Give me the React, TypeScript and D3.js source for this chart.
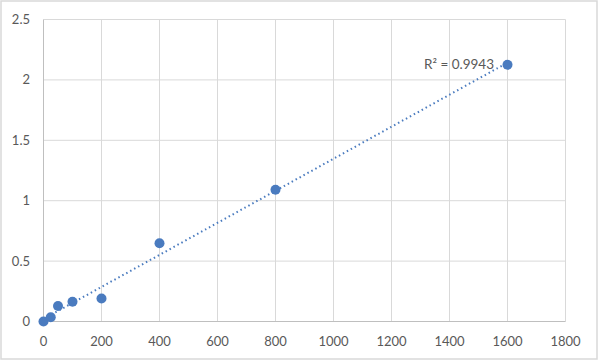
import React from "react";
import * as d3 from "d3";

const xValues = [0, 25, 50, 100, 200, 400, 800, 1600];
const yValues = [0.0, 0.035, 0.128, 0.163, 0.19, 0.648, 1.09, 2.125];
const xTicks = [0, 200, 400, 600, 800, 1000, 1200, 1400, 1600, 1800];
const yTicks = [0, 0.5, 1, 1.5, 2, 2.5];
const r2Label = "R² = 0.9943";

const W = 600;
const H = 361;
const M = { left: 43.5, right: 565.5, top: 19.5, bottom: 321.5 };
const BLUE = "#4a7bbf";
const TEXT = "#595959";
const FONT = "Lato, 'Open Sans', sans-serif";

export default function App() {
  const x = d3.scaleLinear().domain([0, 1800]).range([M.left, M.right]);
  const y = d3.scaleLinear().domain([0, 2.5]).range([M.bottom, M.top]);

  const mx = d3.mean(xValues)!;
  const my = d3.mean(yValues)!;
  let sxy = 0, sxx = 0;
  xValues.forEach((v, i) => {
    sxy += (v - mx) * (yValues[i] - my);
    sxx += (v - mx) * (v - mx);
  });
  const slope = sxy / sxx;
  const intercept = my - slope * mx;
  const x0 = d3.min(xValues)!;
  const x1 = d3.max(xValues)!;
  const line = d3.line<number>().x((d) => x(d)).y((d) => y(intercept + slope * d));

  return (
    <svg width={W} height={H} style={{ position: "absolute", left: 0, top: 0 }}>
      <rect x={0} y={0} width={W} height={H} fill="#fff" />
      <rect x={1} y={1} width={596} height={358} fill="none" stroke="#d9d9d9" strokeWidth={1.5} />
      {xTicks.slice(1).map((t) => (
        <line key={"gx" + t} x1={x(t)} x2={x(t)} y1={M.top} y2={M.bottom} stroke="#d9d9d9" strokeWidth={1} />
      ))}
      {yTicks.slice(1).map((t) => (
        <line key={"gy" + t} x1={M.left} x2={M.right} y1={y(t)} y2={y(t)} stroke="#d9d9d9" strokeWidth={1} />
      ))}
      <line x1={M.left} x2={M.left} y1={M.top} y2={M.bottom} stroke="#bfbfbf" strokeWidth={1} />
      <line x1={M.left} x2={M.right} y1={M.bottom} y2={M.bottom} stroke="#bfbfbf" strokeWidth={1} />
      {yTicks.map((t) => (
        <text key={"ty" + t} x={30} y={y(t)} dy="0.35em" textAnchor="end" fontSize={13} fill={TEXT} fontFamily={FONT}>
          {String(t)}
        </text>
      ))}
      {xTicks.map((t) => (
        <text key={"tx" + t} x={x(t)} y={341} dy="0.35em" textAnchor="middle" fontSize={13} fill={TEXT} fontFamily={FONT}>
          {String(t)}
        </text>
      ))}
      <path d={line([x0, x1]) || ""} fill="none" stroke={BLUE} strokeWidth={2} strokeDasharray="1.5 3" />
      {xValues.map((v, i) => (
        <circle key={"p" + i} cx={x(v)} cy={y(yValues[i])} r={5} fill={BLUE} />
      ))}
      <text x={494} y={64} dy="0.35em" textAnchor="end" fontSize={13.5} fill={TEXT} fontFamily={FONT}>
        {r2Label}
      </text>
    </svg>
  );
}
